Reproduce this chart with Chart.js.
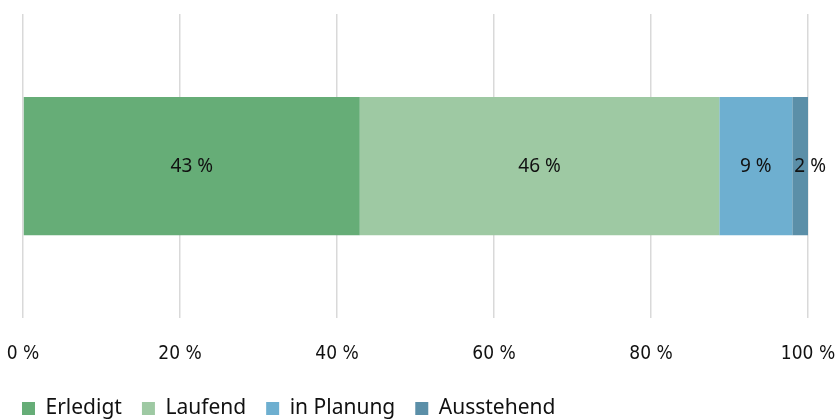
<!DOCTYPE html>
<html>
<head>
<meta charset="utf-8">
<script src="https://cdn.jsdelivr.net/npm/chart.js@4.4.0/dist/chart.umd.min.js"></script>
<style>
  html, body { margin: 0; padding: 0; background: #fff; }
  #wrap { width: 837px; height: 419px; position: relative; }
</style>
</head>
<body>
<div id="wrap"><canvas id="status"></canvas></div>
<script>
// Chart data
var categories = ["Status"];
var seriesNames = ["Erledigt", "Laufend", "in Planung", "Ausstehend"];
var erledigt = [42.9];
var laufend = [45.8];
var inPlanung = [9.3];
var ausstehend = [2.0];
var seriesColors = ["#66ad77", "#9ec9a3", "#6eafd0", "#5b8fa8"];
var tickValues = [0, 20, 40, 60, 80, 100];

var seriesValues = [erledigt, laufend, inPlanung, ausstehend];

// Value labels inside the bars
var barLabels = {
    id: 'barLabels',
    afterDatasetsDraw: function(chart){
        var ctx = chart.ctx;
        ctx.save();
        ctx.font = '19px "Noto Sans", sans-serif';
        ctx.fillStyle = '#111';
        ctx.textAlign = 'center';
        ctx.textBaseline = 'middle';
        chart.data.datasets.forEach(function(ds, i){
            chart.getDatasetMeta(i).data.forEach(function(bar, j){
                var v = ds.data[j];
                var x = (bar.x + bar.base) / 2;
                if (bar.x - bar.base < 30) x += 10;
                ctx.fillText(Math.round(v) + ' %', x, bar.y);
            });
        });
        ctx.restore();
    }
};

var ctx = document.getElementById('status').getContext('2d');
var myChart = new Chart(ctx, {
    type: 'bar',
    data: {
        labels: categories,
        datasets: seriesNames.map(function(name, i){
            return {
                label: name,
                data: seriesValues[i],
                backgroundColor: seriesColors[i],
                borderWidth: 0,
                barPercentage: 0.455,
                categoryPercentage: 1
            };
        })
    },
    options: {
        indexAxis: 'y',
        responsive: true,
        maintainAspectRatio: false,
        animation: false,
        layout: { padding: { left: 2, right: 0, top: 14, bottom: -10 } },
        scales: {
            x: {
                stacked: true,
                min: 0,
                max: 100,
                afterBuildTicks: function(axis){
                    axis.ticks = tickValues.map(function(v){ return { value: v }; });
                },
                afterFit: function(axis){
                    axis.paddingLeft = 23;
                    axis.paddingRight = 29;
                    axis.height -= 11;
                },
                grid: { color: '#d9d9d9', lineWidth: 1.5, drawTicks: false },
                border: { display: false },
                ticks: {
                    padding: 24,
                    color: '#111',
                    font: { family: '"DejaVu Sans Condensed", "DejaVu Sans"', size: 19 },
                    callback: function(v){ return v + ' %'; }
                }
            },
            y: {
                stacked: true,
                display: false
            }
        },
        plugins: {
            legend: {
                position: 'bottom',
                align: 'start',
                labels: {
                    boxWidth: 13,
                    boxHeight: 13,
                    padding: 20,
                    color: '#111',
                    font: { family: '"Noto Sans", sans-serif', size: 21 }
                }
            },
            tooltip: { enabled: false }
        }
    },
    plugins: [barLabels]
});
</script>
</body>
</html>
